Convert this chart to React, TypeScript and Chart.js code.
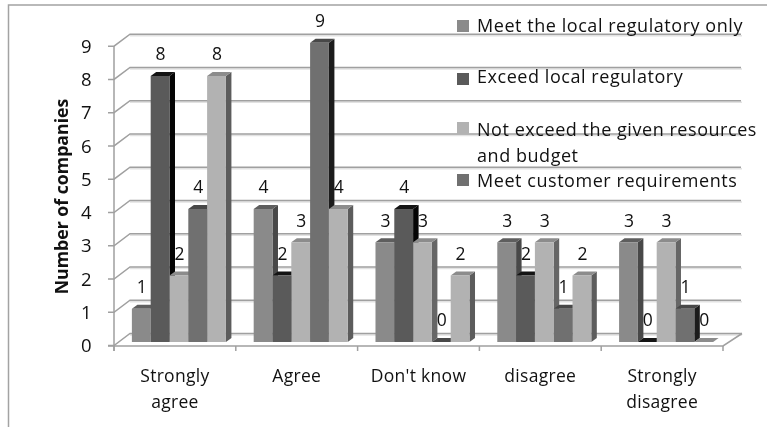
import React, { useEffect, useRef } from "react";
import { Chart, registerables } from "chart.js";

Chart.register(...registerables);

const categories = [["Strongly", "agree"], "Agree", "Don't know", "disagree", ["Strongly", "disagree"]];
const seriesNames = [
  "Meet the local regulatory only",
  "Exceed local regulatory",
  "Not exceed the given resources and budget",
  "Meet customer requirements",
  "Unnamed series",
];
const meetLocal = [1, 4, 3, 3, 3];
const exceedLocal = [8, 2, 4, 2, 0];
const notExceedBudget = [2, 3, 3, 3, 3];
const meetCustomer = [4, 9, 0, 1, 1];
const fifthSeries = [8, 4, 2, 2, 0];
const yTicks = [0, 1, 2, 3, 4, 5, 6, 7, 8, 9];

const frontColors = ["#8a8a8a", "#5a5a5a", "#b2b2b2", "#707070", "#b2b2b2"];
const sideColors = ["#484848", "#050505", "#666666", "#1c1c1c", "#5c5c5c"];
const topColors = ["#5e5e5e", "#141414", "#8c8c8c", "#484848", "#8c8c8c"];

const legendRows = [
  { lines: ["Meet the local regulatory only"], y: 27, box: 20, color: frontColors[0] },
  { lines: ["Exceed local regulatory"], y: 78, box: 73, color: frontColors[1] },
  { lines: ["Not exceed the given resources", "and budget"], y: 131, box: 122, color: frontColors[2] },
  { lines: ["Meet customer requirements"], y: 182, box: 174, color: frontColors[3] },
];

const FONT = '"Open Sans", sans-serif';

const threeD = {
  id: "threeD",
  beforeDraw(chart: any) {
    chart.ctx.letterSpacing = "0.3px";
  },
  beforeDatasetsDraw(chart: any) {
    const { ctx, scales } = chart;
    const y = scales.y;
    const x = scales.x;
    const fL = 114, fR = 723, bL = 130, bR = 742;
    ctx.save();
    // frame
    ctx.strokeStyle = "#a3a3a3";
    ctx.lineWidth = 1.5;
    ctx.beginPath();
    ctx.moveTo(8.5, 427);
    ctx.lineTo(8.5, 5);
    ctx.lineTo(767, 5);
    ctx.stroke();
    // gridlines with their shadows
    yTicks.forEach((v) => {
      const py = y.getPixelForValue(v);
      const back = py - 8.5;
      const front = py + 3.5;
      ctx.strokeStyle = "#e2e2e2";
      ctx.lineWidth = 1.5;
      ctx.beginPath();
      ctx.moveTo(bL, back + 1.5);
      ctx.lineTo(bR, back + 1.5);
      ctx.stroke();
      ctx.strokeStyle = "#a0a0a0";
      ctx.lineWidth = 1.5;
      ctx.beginPath();
      ctx.moveTo(108, front);
      ctx.lineTo(fL, front);
      ctx.lineTo(bL, back);
      ctx.lineTo(v === 0 ? bR : bR - 1, back);
      ctx.stroke();
    });
    // axis walls
    const y0 = y.getPixelForValue(0);
    const y9 = y.getPixelForValue(9);
    ctx.strokeStyle = "#a0a0a0";
    ctx.lineWidth = 1.5;
    ctx.beginPath();
    ctx.moveTo(fL, y9 + 3.5);
    ctx.lineTo(fL, y0 + 9);
    ctx.moveTo(108, y0 + 4);
    ctx.lineTo(fR, y0 + 4);
    ctx.lineTo(bR, y0 - 8.5);
    ctx.stroke();
    const step = (fR - fL) / categories.length;
    ctx.beginPath();
    categories.forEach((_, i) => {
      ctx.moveTo(fL + step * i, y0 + 4);
      ctx.lineTo(fL + step * i, y0 + 9);
    });
    ctx.moveTo(fR, y0 + 4);
    ctx.lineTo(fR, y0 + 9);
    ctx.stroke();
    // side and top faces, left to right
    const dx = 5.5, dy = 4;
    const nCat = x.ticks.length;
    for (let c = 0; c < nCat; c++) {
      chart.data.datasets.forEach((_: any, s: number) => {
        const bar = chart.getDatasetMeta(s).data[c];
        const l = bar.x - bar.width / 2;
        const r = bar.x + bar.width / 2;
        const t = bar.y;
        const b = bar.base;
        ctx.fillStyle = sideColors[s];
        ctx.beginPath();
        ctx.moveTo(r, t);
        ctx.lineTo(r + dx, t - dy);
        ctx.lineTo(r + dx, b - dy);
        ctx.lineTo(r, b);
        ctx.closePath();
        ctx.fill();
        ctx.fillStyle = topColors[s];
        ctx.beginPath();
        ctx.moveTo(l, t);
        ctx.lineTo(l + dx, t - dy);
        ctx.lineTo(r + dx, t - dy);
        ctx.lineTo(r, t);
        ctx.closePath();
        ctx.fill();
      });
    }
    ctx.restore();
  },
  afterDatasetsDraw(chart: any) {
    const { ctx } = chart;
    ctx.save();
    // value labels
    ctx.letterSpacing = "0px";
    ctx.font = `17.5px ${FONT}`;
    ctx.fillStyle = "#111";
    ctx.textAlign = "center";
    ctx.textBaseline = "middle";
    chart.data.datasets.forEach((ds: any, s: number) => {
      chart.getDatasetMeta(s).data.forEach((bar: any, i: number) => {
        ctx.fillText(String(ds.data[i]), bar.x + 0.5, bar.y - 20.5);
      });
    });
    // axis title
    ctx.save();
    ctx.translate(63, 196.5);
    ctx.rotate(-Math.PI / 2);
    ctx.font = `bold 17.7px ${FONT}`;
    ctx.fillStyle = "#111";
    ctx.fillText("Number of companies", 0, 0);
    ctx.restore();
    // legend
    ctx.textAlign = "left";
    ctx.font = `18px ${FONT}`;
    ctx.letterSpacing = "0.55px";
    legendRows.forEach((row) => {
      ctx.fillStyle = row.color;
      ctx.fillRect(457, row.box, 12, 12);
      ctx.fillStyle = "#111";
      row.lines.forEach((line, k) => ctx.fillText(line, 477, row.y + k * 26));
    });
    ctx.restore();
  },
};

export default function App() {
  const ref = useRef<HTMLCanvasElement>(null);
  useEffect(() => {
    const seriesValues = [meetLocal, exceedLocal, notExceedBudget, meetCustomer, fifthSeries];
    const chart = new Chart(ref.current!, {
      type: "bar",
      data: {
        labels: categories as any,
        datasets: seriesValues.map((data, i) => ({
          label: seriesNames[i],
          data,
          backgroundColor: frontColors[i],
          barPercentage: 1,
          categoryPercentage: 0.772,
        })),
      },
      options: {
        responsive: false,
        animation: false,
        layout: { padding: { top: 42.7, right: 40, left: 0, bottom: 0 } },
        plugins: { legend: { display: false }, title: { display: false }, tooltip: { enabled: false } },
        scales: {
          x: {
            grid: { display: false, drawTicks: false },
            border: { display: false },
            afterFit: (s: any) => { s.height = 85; },
            ticks: {
              autoSkip: false,
              maxRotation: 0,
              minRotation: 0,
              padding: 22,
              labelOffset: -4,
              color: "#111",
              font: { family: FONT, size: 17.5, lineHeight: 1.48 },
            },
          },
          y: {
            min: 0,
            max: 9,
            grid: { display: false, drawTicks: false },
            border: { display: false },
            afterFit: (s: any) => { s.width = 118; },
            ticks: {
              stepSize: 1,
              padding: 26,
              labelOffset: 5,
              color: "#111",
              font: { family: FONT, size: 18.5 },
            },
          },
        },
      },
      plugins: [threeD],
    });
    return () => chart.destroy();
  }, []);
  return (
    <div style={{ position: "fixed", left: 0, top: 0, width: 767, height: 427, background: "#fff" }}>
      <canvas ref={ref} width={767} height={427} style={{ display: "block", filter: "blur(0.4px)" }} />
    </div>
  );
}
